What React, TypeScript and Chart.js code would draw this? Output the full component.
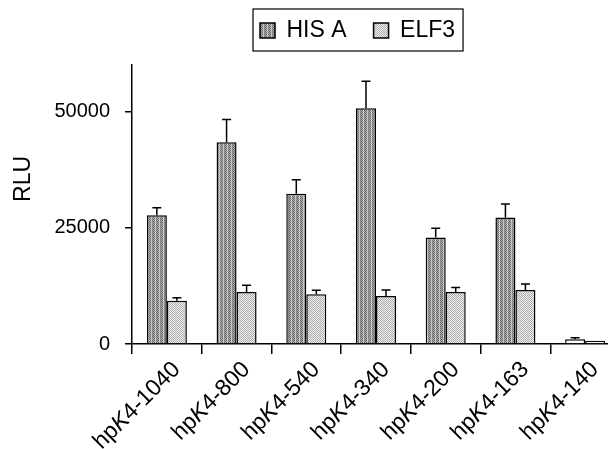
import { useEffect, useRef } from 'react';
import { Chart, registerables } from 'chart.js';

Chart.register(...registerables);

const categories = ['hpK4-1040', 'hpK4-800', 'hpK4-540', 'hpK4-340', 'hpK4-200', 'hpK4-163', 'hpK4-140'];
const seriesNames = ['HIS A', 'ELF3'];
const hisA = [27700, 43400, 32300, 50700, 22900, 27200, 1000];
const hisAErr = [1600, 4900, 3000, 5800, 2000, 2900, 350];
const elf3 = [9300, 11200, 10700, 10300, 11200, 11600, 700];
const elf3Err = [650, 1450, 870, 1300, 940, 1300, 0];
const yTicks = [0, 25000, 50000];
const yMax = 60000;
const yTitle = 'RLU';

const FONT = "'Liberation Sans', Arial, Helvetica, sans-serif";

function makePattern(kind: 'dark' | 'light') {
  const c = document.createElement('canvas');
  c.width = 4;
  c.height = 2;
  const g = c.getContext('2d')!;
  for (let x = 0; x < 4; x++) {
    for (let y = 0; y < 2; y++) {
      const on = (x + y) % 2 === 0;
      let col: string;
      if (kind === 'dark') {
        if (x === 3) col = on ? '#b4b4b4' : '#d8d8d8';
        else col = on ? '#6c6c6c' : '#a8a8a8';
      } else {
        col = on ? '#ababab' : '#f0f0f0';
      }
      g.fillStyle = col;
      g.fillRect(x, y, 1, 1);
    }
  }
  return g.createPattern(c, 'repeat')!;
}

const errorBarPlugin = {
  id: 'errorBars',
  afterDatasetsDraw(chart: any) {
    const ctx = chart.ctx;
    const ys = chart.scales.y;
    const errs = [hisAErr, elf3Err];
    chart.data.datasets.forEach((ds: any, di: number) => {
      const meta = chart.getDatasetMeta(di);
      meta.data.forEach((el: any, i: number) => {
        const e = errs[di][i];
        if (!e) return;
        const top = ys.getPixelForValue(ds.data[i] + e);
        ctx.save();
        ctx.strokeStyle = '#000';
        ctx.lineWidth = 1.5;
        ctx.beginPath();
        ctx.moveTo(el.x, el.y);
        ctx.lineTo(el.x, top);
        ctx.moveTo(el.x - 4.5, top);
        ctx.lineTo(el.x + 4.5, top);
        ctx.stroke();
        ctx.restore();
      });
    });
  },
};

const decorPlugin = {
  id: 'decor',
  afterLayout(chart: any) {
    const lg = chart.legend;
    if (!lg) return;
    lg.left = chart.chartArea.left + 101;
    lg.right = chart.width;
    lg.width = lg.right - lg.left;
    lg.top -= 13;
    lg.bottom -= 13;
  },
  afterDraw(chart: any) {
    const ctx = chart.ctx;
    // legend frame
    const hb = chart.legend?.legendHitBoxes;
    if (hb && hb.length) {
      const first = hb[0];
      const last = hb[hb.length - 1];
      const l = first.left - 7;
      const r = last.left + last.width + 8;
      const t = first.top - 10;
      const b = first.top + first.height + 9;
      ctx.save();
      ctx.strokeStyle = '#000';
      ctx.lineWidth = 1.2;
      ctx.strokeRect(l, t, r - l, b - t);
      ctx.restore();
    }
    // y title
    const ys = chart.scales.y;
    ctx.save();
    ctx.fillStyle = '#000';
    ctx.font = `23px ${FONT}`;
    ctx.textAlign = 'center';
    ctx.textBaseline = 'middle';
    ctx.translate(ys.left + 24, ys.getPixelForValue(35500));
    ctx.rotate(-Math.PI / 2);
    ctx.fillText(yTitle, 0, 0);
    ctx.restore();
    // x labels with italic K
    const xs = chart.scales.x;
    const size = 23;
    categories.forEach((lab, i) => {
      const m = lab.match(/^(hp)(K)(.*)$/);
      const parts: [string, boolean][] = m ? [[m[1], false], [m[2], true], [m[3], false]] : [[lab, false]];
      const ax = xs.getPixelForTick(i) + 10;
      const ay = xs.top + 10 + 12;
      ctx.save();
      ctx.fillStyle = '#000';
      ctx.textBaseline = 'middle';
      ctx.textAlign = 'left';
      ctx.translate(ax, ay);
      ctx.rotate(-Math.PI / 4);
      let total = 0;
      const widths = parts.map(([s, it]) => {
        ctx.font = `${it ? 'italic ' : ''}${size}px ${FONT}`;
        const w = ctx.measureText(s).width;
        total += w;
        return w;
      });
      let x = -total;
      parts.forEach(([s, it], k) => {
        ctx.font = `${it ? 'italic ' : ''}${size}px ${FONT}`;
        ctx.fillText(s, x, 0);
        x += widths[k];
      });
      ctx.restore();
    });
  },
};

export default function App() {
  const ref = useRef<HTMLCanvasElement | null>(null);
  useEffect(() => {
    const canvas = ref.current!;
    const ctx = canvas.getContext('2d')!;
    const darkP = makePattern('dark');
    const lightP = makePattern('light');
    const n = categories.length;
    const bgA = categories.map((_, i) => (i === n - 1 ? '#ffffff' : darkP));
    const bgB = categories.map((_, i) => (i === n - 1 ? '#ffffff' : lightP));
    const chart = new Chart(ctx, {
      type: 'bar',
      data: {
        labels: categories,
        datasets: [
          { label: seriesNames[0], data: hisA, backgroundColor: bgA as any, borderColor: '#000', borderWidth: 1.5 },
          { label: seriesNames[1], data: elf3, backgroundColor: bgB as any, borderColor: '#000', borderWidth: 1.5 },
        ],
      },
      options: {
        responsive: false,
        animation: false,
        devicePixelRatio: 1,
        layout: { padding: { left: 0, right: 0, top: 5, bottom: 0 } },
        datasets: { bar: { categoryPercentage: 0.574, barPercentage: 1.0 } },
        plugins: {
          legend: {
            display: true,
            position: 'top',
            align: 'start',
            maxHeight: 72,
            labels: {
              boxWidth: 15,
              boxHeight: 15,
              padding: 27,
              color: '#000',
              font: { size: 23, family: FONT },
            },
          },
          tooltip: { enabled: false },
        },
        scales: {
          x: {
            afterFit: (ax: any) => { ax.height = 105; },
            grid: { offset: true, drawOnChartArea: false, drawTicks: true, tickLength: 10, color: '#000', lineWidth: 1.5 },
            border: { display: true, color: '#000', width: 1.5 },
            ticks: { autoSkip: false, minRotation: 45, maxRotation: 45, color: 'rgba(0,0,0,0)', font: { size: 21, family: FONT }, padding: 4 },
          },
          y: {
            min: 0,
            max: yMax,
            afterBuildTicks: (ax: any) => { ax.ticks = yTicks.map((v) => ({ value: v })); },
            afterFit: (ax: any) => { ax.width = 132; },
            grid: { drawOnChartArea: false, drawTicks: true, tickLength: 7, color: '#000', lineWidth: 1.5 },
            border: { display: true, color: '#000', width: 1.5 },
            ticks: { color: '#000', font: { size: 20, family: FONT }, padding: 15, callback: (v: any) => String(v) },
          },
        },
      },
      plugins: [errorBarPlugin, decorPlugin],
    });
    return () => chart.destroy();
  }, []);
  return (
    <div style={{ position: 'fixed', left: 0, top: 0, width: 608, height: 449, overflow: 'hidden', background: '#fff' }}>
      <canvas ref={ref} width={620} height={449} style={{ display: 'block' }} />
    </div>
  );
}
